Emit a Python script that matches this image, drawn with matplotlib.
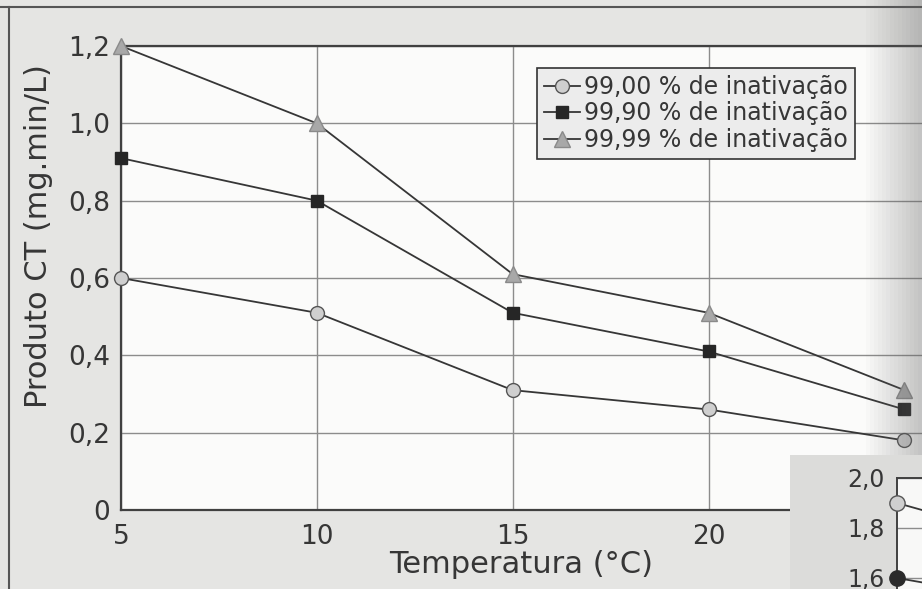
import matplotlib.pyplot as plt
from matplotlib.patches import Rectangle

# data
temperatura = [5, 10, 15, 20, 25]
ct_9900 = [0.60, 0.51, 0.31, 0.26, 0.18]
ct_9990 = [0.91, 0.80, 0.51, 0.41, 0.26]
ct_9999 = [1.20, 1.00, 0.61, 0.51, 0.31]
labels = ['99,00 % de inativação', '99,90 % de inativação', '99,99 % de inativação']
y_ticks = [0, 0.2, 0.4, 0.6, 0.8, 1.0, 1.2]
y_tick_labels = ['0', '0,2', '0,4', '0,6', '0,8', '1,0', '1,2']
x_ticks = [5, 10, 15, 20]

# piece of the next figure that shows in the corner
inset_ticks = [1.6, 1.8, 2.0]
inset_tick_labels = ['1,6', '1,8', '2,0']
inset_x = [0, 1]
inset_light = [1.90, 1.82]
inset_dark = [1.60, 1.55]

paper = '#e5e5e3'
ink = '#363636'

plt.rcParams['font.family'] = ['DejaVu Sans']

fig = plt.figure(figsize=(9.22, 5.89), dpi=100)
fig.patch.set_facecolor(paper)

# page border lines of the scan
fig.add_artist(plt.Line2D([0, 1], [1 - 7 / 589, 1 - 7 / 589], color='#555555', lw=1.5, transform=fig.transFigure))
fig.add_artist(plt.Line2D([9 / 922, 9 / 922], [0, 1 - 7 / 589], color='#555555', lw=1.5, transform=fig.transFigure))

ax = fig.add_axes([121 / 922, 1 - 510 / 589, (922 - 121) / 922, (510 - 46) / 589])
ax.set_facecolor('#fbfbfa')

ax.plot(temperatura, ct_9900, color=ink, lw=1.3, marker='o', ms=10,
        mfc='#cfcfcf', mec='#555555', mew=1, label=labels[0], zorder=3, clip_on=False)
ax.plot(temperatura, ct_9990, color=ink, lw=1.3, marker='s', ms=9,
        mfc='#262626', mec='#262626', label=labels[1], zorder=3, clip_on=False)
ax.plot(temperatura, ct_9999, color=ink, lw=1.3, marker='^', ms=11,
        mfc='#a8a8a8', mec='#8a8a8a', label=labels[2], zorder=3, clip_on=False)

ax.set_xlim(5, 25.45)
ax.set_ylim(0, 1.2)
ax.set_xticks(x_ticks)
ax.set_yticks(y_ticks)
ax.set_yticklabels(y_tick_labels)
ax.tick_params(length=0, labelsize=19, colors=ink, pad=8)
ax.tick_params(axis='x', pad=10)
ax.grid(True, color='#8c8c8c', lw=1)
ax.set_axisbelow(True)
for side in ['top', 'left', 'bottom']:
    ax.spines[side].set_color('#404040')
    ax.spines[side].set_linewidth(1.6)
ax.spines['right'].set_visible(False)

ax.set_xlabel('Temperatura (°C)', fontsize=22, color=ink, labelpad=0)
ax.set_ylabel('Produto CT (mg.min/L)', fontsize=22, color=ink)
ax.yaxis.set_label_coords(-0.085, 0.59)

leg = ax.legend(loc='upper left', bbox_to_anchor=(537 / 922, 1 - 68 / 589), bbox_transform=fig.transFigure,
                fontsize=17, frameon=True, fancybox=False, handlelength=1.5, handletextpad=0.2,
                borderpad=0.3, labelspacing=0.1, borderaxespad=0)
leg.get_frame().set_facecolor('#ececec')
leg.get_frame().set_edgecolor('#333333')
leg.get_frame().set_linewidth(1.2)
leg.get_frame().set_alpha(1)
for t in leg.get_texts():
    t.set_color(ink)

# shadow of the book binding on the right
for i in range(14):
    x0 = (866 + i * 4) / 922
    fig.add_artist(Rectangle((x0, 1 - 455 / 589), 4 / 922, 455 / 589, transform=fig.transFigure,
                             facecolor='#606060', edgecolor='none', alpha=0.025 * (i + 1), zorder=4))

# corner panel of the following figure
fig.add_artist(Rectangle((790 / 922, 0), 1 - 790 / 922, 1 - 455 / 589, transform=fig.transFigure,
                         facecolor='#dcdcda', edgecolor='none', zorder=5))
ax2 = fig.add_axes([897 / 922, 0, (922 - 897) / 922, 1 - 478 / 589], zorder=6)
ax2.set_facecolor('#f8f8f7')
ax2.plot(inset_x, inset_light, color=ink, lw=1.3, zorder=3)
ax2.plot(inset_x, inset_dark, color=ink, lw=1.3, zorder=3)
ax2.plot(inset_x[:1], inset_light[:1], ls='none', marker='o', ms=11,
         mfc='#cfcfcf', mec='#555555', clip_on=False, zorder=4)
ax2.plot(inset_x[:1], inset_dark[:1], ls='none', marker='o', ms=11,
         mfc='#2a2a2a', mec='#2a2a2a', clip_on=False, zorder=4)
ax2.set_xlim(0, 0.35)
ax2.set_ylim(1.556, 2.0)
ax2.set_xticks([])
ax2.set_yticks(inset_ticks)
ax2.set_yticklabels(inset_tick_labels)
ax2.tick_params(length=0, labelsize=17, colors=ink, pad=9)
ax2.grid(True, axis='y', color='#8c8c8c', lw=1)
ax2.set_axisbelow(True)
for side in ['top', 'left']:
    ax2.spines[side].set_color('#404040')
    ax2.spines[side].set_linewidth(1.4)
ax2.spines['right'].set_visible(False)
ax2.spines['bottom'].set_visible(False)

fig.savefig('out.png', dpi=100, facecolor=fig.get_facecolor())
